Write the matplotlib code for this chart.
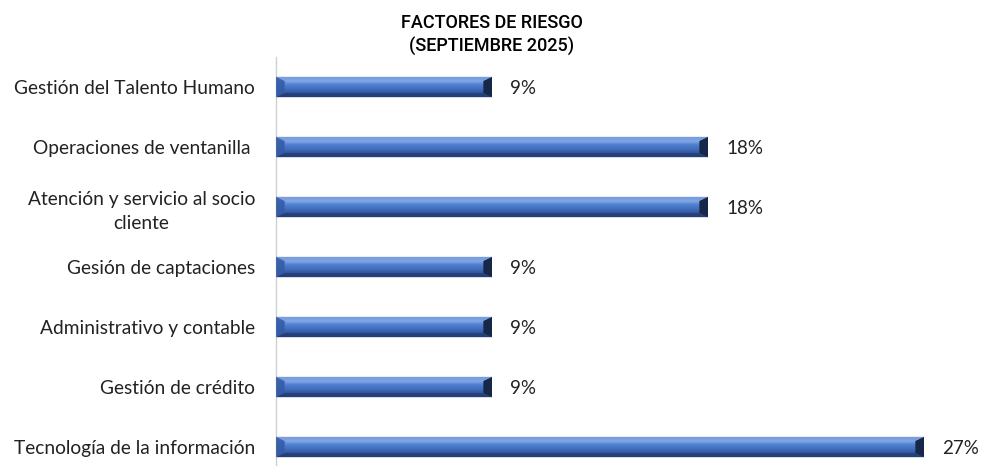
import numpy as np
import matplotlib
matplotlib.use("Agg")
import matplotlib.pyplot as plt
from matplotlib.patches import Polygon
from matplotlib.colors import LinearSegmentedColormap

plt.rcParams["font.family"] = ["Lato", "DejaVu Sans"]

categorias = [
    "Tecnología de la información",
    "Gestión de crédito",
    "Administrativo y contable",
    "Gesión de captaciones",
    "Atención y servicio al socio\ncliente",
    "Operaciones de ventanilla ",
    "Gestión del Talento Humano",
]
porcentajes = [27, 9, 9, 9, 18, 18, 9]
etiquetas = ["27%", "9%", "9%", "9%", "18%", "18%", "9%"]

W, H = 981, 466
fig = plt.figure(figsize=(W / 100, H / 100), dpi=100)
# axes placed in pixel terms: left edge at x=276, top at y=57
ax = fig.add_axes([276 / W, 0, (975 - 276) / W, (H - 57) / H])

px_per_unit = 24.0
ax.set_xlim(0, (975 - 276) / px_per_unit)
row_px = 60.0
ax.set_ylim(-0.5 + (477 - H) / row_px, len(categorias) - 0.5)

alto = 0.34
grad = LinearSegmentedColormap.from_list(
    "bisel", ["#263f78", "#34579e", "#4270c0", "#5281d2", "#8fb2ec", "#5a83cf"])
vert = np.linspace(0, 1, 64).reshape(-1, 1)

bx = 0.36          # bevel depth along x (data units)
by = alto * 0.2    # bevel depth along y

for i, v in enumerate(porcentajes):
    y0, y1 = i - alto / 2, i + alto / 2
    im = ax.imshow(vert, cmap=grad, aspect="auto", origin="lower",
                   extent=(0, v, y0, y1), zorder=2, interpolation="bilinear")
    clip = Polygon([(0, y0), (v, y0), (v, y1), (0, y1)], closed=True,
                   transform=ax.transData)
    im.set_clip_path(clip)
    # left bevel
    ax.add_patch(Polygon([(0, y0), (bx, y0 + by), (bx, y1 - by), (0, y1)],
                         closed=True, fc="#345ca6", ec="none", alpha=0.9, zorder=3))
    # right bevel, shaded dark
    ax.add_patch(Polygon([(v, y0), (v - bx, y0 + by), (v - bx, y1 - by), (v, y1)],
                         closed=True, fc="#17274a", ec="none", zorder=3))
    # top highlight and bottom shade
    ax.add_patch(Polygon([(0, y1), (bx, y1 - by), (v - bx, y1 - by), (v, y1)],
                         closed=True, fc="#7a9fe0", ec="none", alpha=0.85, zorder=3))
    ax.add_patch(Polygon([(0, y0), (bx, y0 + by), (v - bx, y0 + by), (v, y0)],
                         closed=True, fc="#253f78", ec="none", alpha=0.9, zorder=3))
    ax.text(v + 0.75, i - 0.03, etiquetas[i], va="center", ha="left",
            fontsize=13.5, color="#222222")

ax.set_yticks(range(len(categorias)))
ax.set_yticklabels(categorias, fontsize=13.8, color="#222222",
                   linespacing=1.45, multialignment="center")
ax.tick_params(axis="y", length=0, pad=15)
ax.set_xticks([])
for lado in ("top", "right", "bottom"):
    ax.spines[lado].set_visible(False)
ax.spines["left"].set_color("#d0d0d0")
ax.spines["left"].set_linewidth(1.0)
ax.set_facecolor("none")

fig.text(492 / W, 1 - 35 / H, "FACTORES DE RIESGO\n(SEPTIEMBRE 2025)",
         ha="center", va="center", fontsize=13, color="#000000",
         family=["Roboto", "DejaVu Sans"], fontweight="medium",
         linespacing=1.4)

fig.savefig("out.png", dpi=100)
